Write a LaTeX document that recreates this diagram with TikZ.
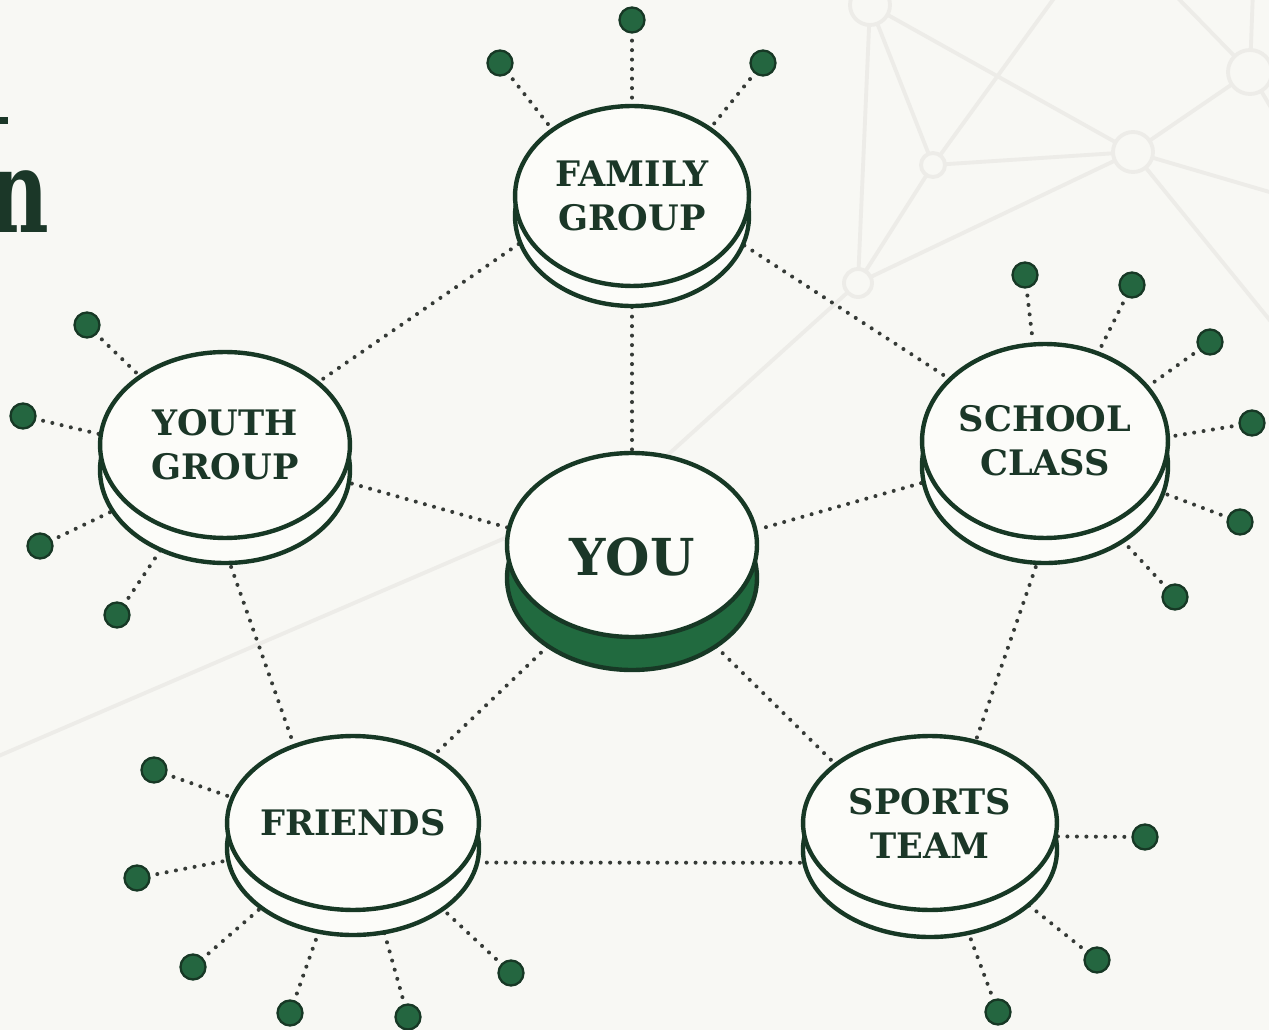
\documentclass[tikz,border=0pt]{standalone}
\usepackage{fontspec}
\setmainfont{DejaVu Serif}
\usetikzlibrary{shapes.geometric}

\definecolor{paper}{HTML}{F8F8F4}
\definecolor{face}{HTML}{FCFCF9}
\definecolor{ink}{HTML}{173825}
\definecolor{txt}{HTML}{1B3728}
\definecolor{leaf}{HTML}{246640}
\definecolor{band}{HTML}{216A3F}
\definecolor{dotline}{HTML}{353A36}
\definecolor{net}{HTML}{EDECE8}

\pgfdeclarelayer{paperlayer}
\pgfdeclarelayer{netlayer}
\pgfdeclarelayer{linklayer}
\pgfsetlayers{paperlayer,netlayer,linklayer,main}

\tikzset{
  diskface/.style={ellipse, draw=ink, line width=2.5pt, fill=face, inner sep=0pt},
  diskside/.style={draw=ink, line width=2.5pt, fill=face},
  disklabel/.style={font=\bfseries\fontsize{20}{25}\selectfont, text=txt, align=center, inner sep=0pt},
  leafdot/.style={circle, draw=ink, line width=1.3pt, fill=leaf, minimum size=0.5cm, inner sep=0pt},
  link/.style={draw=dotline, line width=2.3pt, line cap=round, dash pattern=on 0pt off 5.4pt},
  spoke/.style={link, shorten <=4pt},
  netline/.style={draw=net, line width=2.2pt},
  netring/.style={draw=net, line width=2.2pt, fill=paper},
}

% #1 name, #2 x, #3 y, #4 x radius, #5 y radius, #6 thickness (all in px), #7 label
\newcommand{\puck}[7]{%
  \path[diskside] (#2,#3+#6) ellipse [x radius=#4*0.02cm, y radius=#5*0.02cm];
  \node[diskface, minimum width=#4*0.04cm, minimum height=#5*0.04cm] (#1) at (#2,#3) {};
  \node[disklabel] (#1-text) at (#1) {#7};
}

\begin{document}
\begin{tikzpicture}[x=0.02cm, y=-0.02cm]
\begin{pgfonlayer}{paperlayer}
\fill[paper] (0,0) rectangle (1269,1030);
\end{pgfonlayer}
\useasboundingbox (0,0) rectangle (1269,1030);

% faint network in the background
\begin{pgfonlayer}{netlayer}
\begin{scope}
\clip (0,0) rectangle (1269,1030);
\coordinate (na) at (870,5);
\coordinate (nb) at (933,165);
\coordinate (nc) at (1133,152);
\coordinate (nd) at (1250,72);
\coordinate (ne) at (858,283);
\coordinate (nh) at (640,480);
\draw[netline] (na) -- (nb) (na) -- (ne) (na) -- (nc) (nb) -- (nc) (nb) -- (ne)
  (nb) -- (1060,-10) (ne) -- (nc) (nc) -- (nd) (nc) -- (1290,198) (nc) -- (1290,345)
  (nd) -- (1253,-10) (nd) -- (1170,-10) (nd) -- (1290,140)
  (ne) -- (nh) (nh) -- (-20,764);
\path[netring] (na) circle [radius=20*0.02cm];
\path[netring] (nb) circle [radius=12*0.02cm];
\path[netring] (nc) circle [radius=20*0.02cm];
\path[netring] (nd) circle [radius=22*0.02cm];
\path[netring] (ne) circle [radius=14*0.02cm];
\end{scope}
\end{pgfonlayer}

% heading fragment at the left edge
\fill[txt] (0,117) rectangle (8,124);
\node[anchor=base east, xscale=0.72, font=\bfseries\fontsize{66}{66}\selectfont, text=txt, inner sep=0pt] (head) at (49,233) {n};

% group pucks
\puck{fam}{632}{196}{117}{90}{20}{FAMILY\\GROUP}
\puck{yg}{225}{445}{125}{93}{25}{YOUTH\\GROUP}
\puck{sc}{1045}{441}{123}{97}{25}{SCHOOL\\CLASS}
\puck{fr}{353}{823}{126}{87}{25}{FRIENDS}
\puck{sp}{930}{823}{127}{87}{27}{SPORTS\\TEAM}

% the central puck
\path[draw=ink, line width=2.5pt, fill=band] (632,578) ellipse [x radius=125*0.02cm, y radius=92*0.02cm];
\node[diskface, minimum width=5cm, minimum height=3.68cm] (you) at (632,545) {};
\node[text=txt, font=\bfseries\fontsize{29}{29}\selectfont, inner sep=0pt] (you-text) at (632,557) {YOU};

% outer members
\node[leafdot] (f1) at (632,20) {};
\node[leafdot] (f2) at (500,63) {};
\node[leafdot] (f3) at (763,63) {};
\node[leafdot] (y1) at (87,325) {};
\node[leafdot] (y2) at (23,416) {};
\node[leafdot] (y3) at (40,546) {};
\node[leafdot] (y4) at (117,615) {};
\node[leafdot] (s1) at (1025,275) {};
\node[leafdot] (s2) at (1132,285) {};
\node[leafdot] (s3) at (1210,342) {};
\node[leafdot] (s4) at (1252,423) {};
\node[leafdot] (s5) at (1240,522) {};
\node[leafdot] (s6) at (1175,597) {};
\node[leafdot] (r1) at (154,770) {};
\node[leafdot] (r2) at (137,878) {};
\node[leafdot] (r3) at (193,967) {};
\node[leafdot] (r4) at (290,1013) {};
\node[leafdot] (r5) at (408,1017) {};
\node[leafdot] (r6) at (511,973) {};
\node[leafdot] (p1) at (1145,837) {};
\node[leafdot] (p2) at (1097,960) {};
\node[leafdot] (p3) at (998,1012) {};

% dotted links, kept under the pucks
\begin{pgfonlayer}{linklayer}
\draw[link] (fam.202) -- (yg.34);
\draw[link] (fam.337) -- (sc.147);
\draw[link] (fam.270) -- (you.90);
\draw[link] (yg.343) -- (you.172);
\draw[link] (sc.199) -- (you.7);
\draw[link] (yg.268) -- (fr.127);
\draw[link] (sc.270) -- (sp.61);
\draw[link] (you.232) -- (fr.40);
\draw[link] (you.308) -- (sp.148);
\draw[link] (fr.341) -- (sp.199);

\draw[spoke] (f1) -- (fam.90);
\draw[spoke] (f2) -- (fam.140);
\draw[spoke] (f3) -- (fam.41);
\draw[spoke] (y1) -- (yg.141);
\draw[spoke] (y2) -- (yg.175);
\draw[spoke] (y3) -- (yg.211);
\draw[spoke] (y4) -- (yg.239);
\draw[spoke] (s1) -- (sc.97);
\draw[spoke] (s2) -- (sc.59);
\draw[spoke] (s3) -- (sc.28);
\draw[spoke] (s4) -- (sc.2);
\draw[spoke] (s5) -- (sc.336);
\draw[spoke] (s6) -- (sc.307);
\draw[spoke] (r1) -- (fr.168);
\draw[spoke] (r2) -- (fr.197);
\draw[spoke] (r3) -- (fr.223);
\draw[spoke] (r4) -- (fr.253);
\draw[spoke] (r5) -- (fr.286);
\draw[spoke] (r6) -- (fr.316);
\draw[spoke] (p1) -- (sp.354);
\draw[spoke] (p2) -- (sp.320);
\draw[spoke] (p3) -- (sp.289);
\end{pgfonlayer}
\end{tikzpicture}
\end{document}
